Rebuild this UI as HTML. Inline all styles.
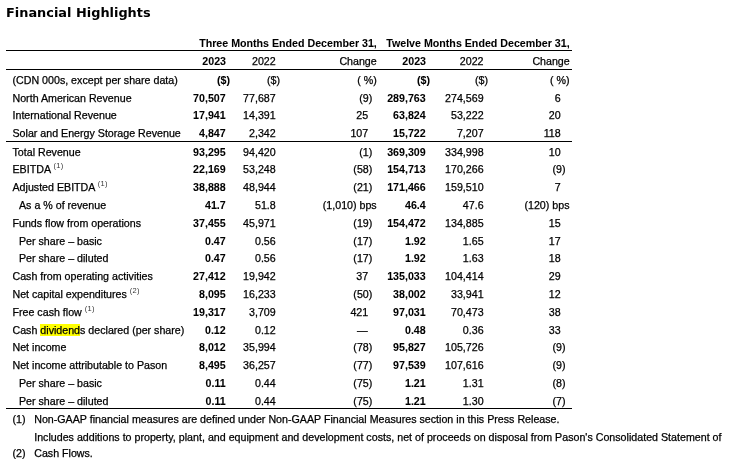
<!DOCTYPE html>
<html><head><meta charset="utf-8"><style>
html,body{margin:0;padding:0;background:#fff;}
body{will-change:transform;width:736px;height:459px;position:relative;overflow:hidden;font-family:"Liberation Sans", Arial, sans-serif;font-size:10.67px;color:#000;}
.t{position:absolute;white-space:nowrap;line-height:11px;-webkit-text-stroke:0.25px #000;}
.title{position:absolute;left:6px;top:5px;font-family:"DejaVu Sans",Verdana,sans-serif;font-weight:bold;font-size:12.9px;line-height:15px;white-space:nowrap;}
.ln{position:absolute;height:1px;background:#000;}
.b{font-weight:bold;-webkit-text-stroke:0.05px #000;}
.hl{background:#ffff00;}
sup{font-size:7.5px;vertical-align:0;position:relative;top:-5px;letter-spacing:0.3px;color:#333;-webkit-text-stroke:0;}
</style></head><body>
<div class="title">Financial Highlights</div>

<div class="t b" style="top:38px;right:359.2px;">Three Months Ended December 31,</div>
<div class="t b" style="top:38px;right:166.4px;">Twelve Months Ended December 31,</div>
<div class="ln" style="left:6px;top:50px;width:566px;"></div>
<div class="ln" style="left:6px;top:69px;width:566px;"></div>
<div class="t b" style="top:56px;right:510px;">2023</div>
<div class="t" style="top:56px;right:460.3px;">2022</div>
<div class="t" style="top:56px;right:359.3px;">Change</div>
<div class="t b" style="top:56px;right:310px;">2023</div>
<div class="t" style="top:56px;right:252.5px;">2022</div>
<div class="t" style="top:56px;right:166.3px;">Change</div>
<div class="t" style="top:75px;left:12.5px;">(CDN 000s, except per share data)</div>
<div class="t b" style="top:75px;right:506px;">($)</div>
<div class="t" style="top:75px;right:456px;">($)</div>
<div class="t" style="top:75px;right:359.3px;">( %)</div>
<div class="t b" style="top:75px;right:306px;">($)</div>
<div class="t" style="top:75px;right:248px;">($)</div>
<div class="t" style="top:75px;right:166.5px;">( %)</div>
<div class="t" style="top:93px;left:12.5px;">North American Revenue</div>
<div class="t b" style="top:93px;right:510.3px;">70,507</div>
<div class="t" style="top:93px;right:460.3px;">77,687</div>
<div class="t" style="top:93px;right:363.7px;">(9)</div>
<div class="t b" style="top:93px;right:310.3px;">289,763</div>
<div class="t" style="top:93px;right:252.4px;">274,569</div>
<div class="t" style="top:93px;right:175.3px;">6</div>
<div class="t" style="top:110px;left:12.5px;">International Revenue</div>
<div class="t b" style="top:110px;right:510.3px;">17,941</div>
<div class="t" style="top:110px;right:460.3px;">14,391</div>
<div class="t" style="top:110px;right:367.8px;">25</div>
<div class="t b" style="top:110px;right:310.3px;">63,824</div>
<div class="t" style="top:110px;right:252.4px;">53,222</div>
<div class="t" style="top:110px;right:175.3px;">20</div>
<div class="t" style="top:128px;left:12.5px;">Solar and Energy Storage Revenue</div>
<div class="t b" style="top:128px;right:510.3px;">4,847</div>
<div class="t" style="top:128px;right:460.3px;">2,342</div>
<div class="t" style="top:128px;right:367.8px;">107</div>
<div class="t b" style="top:128px;right:310.3px;">15,722</div>
<div class="t" style="top:128px;right:252.4px;">7,207</div>
<div class="t" style="top:128px;right:175.3px;">118</div>
<div class="t" style="top:147px;left:12.5px;">Total Revenue</div>
<div class="t b" style="top:147px;right:510.3px;">93,295</div>
<div class="t" style="top:147px;right:460.3px;">94,420</div>
<div class="t" style="top:147px;right:363.7px;">(1)</div>
<div class="t b" style="top:147px;right:310.3px;">369,309</div>
<div class="t" style="top:147px;right:252.4px;">334,998</div>
<div class="t" style="top:147px;right:175.3px;">10</div>
<div class="t" style="top:164px;left:12.5px;">EBITDA <sup>(1)</sup></div>
<div class="t b" style="top:164px;right:510.3px;">22,169</div>
<div class="t" style="top:164px;right:460.3px;">53,248</div>
<div class="t" style="top:164px;right:363.7px;">(58)</div>
<div class="t b" style="top:164px;right:310.3px;">154,713</div>
<div class="t" style="top:164px;right:252.4px;">170,266</div>
<div class="t" style="top:164px;right:170.5px;">(9)</div>
<div class="t" style="top:182px;left:12.5px;">Adjusted EBITDA <sup>(1)</sup></div>
<div class="t b" style="top:182px;right:510.3px;">38,888</div>
<div class="t" style="top:182px;right:460.3px;">48,944</div>
<div class="t" style="top:182px;right:363.7px;">(21)</div>
<div class="t b" style="top:182px;right:310.3px;">171,466</div>
<div class="t" style="top:182px;right:252.4px;">159,510</div>
<div class="t" style="top:182px;right:175.3px;">7</div>
<div class="t" style="top:200px;left:19px;">As a % of revenue</div>
<div class="t b" style="top:200px;right:510.3px;">41.7</div>
<div class="t" style="top:200px;right:460.3px;">51.8</div>
<div class="t" style="top:200px;right:359.3px;">(1,010) bps</div>
<div class="t b" style="top:200px;right:310.3px;">46.4</div>
<div class="t" style="top:200px;right:252.4px;">47.6</div>
<div class="t" style="top:200px;right:166.5px;">(120) bps</div>
<div class="t" style="top:218px;left:12.5px;">Funds flow from operations</div>
<div class="t b" style="top:218px;right:510.3px;">37,455</div>
<div class="t" style="top:218px;right:460.3px;">45,971</div>
<div class="t" style="top:218px;right:363.7px;">(19)</div>
<div class="t b" style="top:218px;right:310.3px;">154,472</div>
<div class="t" style="top:218px;right:252.4px;">134,885</div>
<div class="t" style="top:218px;right:175.3px;">15</div>
<div class="t" style="top:236px;left:19px;">Per share – basic</div>
<div class="t b" style="top:236px;right:510.3px;">0.47</div>
<div class="t" style="top:236px;right:460.3px;">0.56</div>
<div class="t" style="top:236px;right:363.7px;">(17)</div>
<div class="t b" style="top:236px;right:310.3px;">1.92</div>
<div class="t" style="top:236px;right:252.4px;">1.65</div>
<div class="t" style="top:236px;right:175.3px;">17</div>
<div class="t" style="top:253px;left:19px;">Per share – diluted</div>
<div class="t b" style="top:253px;right:510.3px;">0.47</div>
<div class="t" style="top:253px;right:460.3px;">0.56</div>
<div class="t" style="top:253px;right:363.7px;">(17)</div>
<div class="t b" style="top:253px;right:310.3px;">1.92</div>
<div class="t" style="top:253px;right:252.4px;">1.63</div>
<div class="t" style="top:253px;right:175.3px;">18</div>
<div class="t" style="top:271px;left:12.5px;">Cash from operating activities</div>
<div class="t b" style="top:271px;right:510.3px;">27,412</div>
<div class="t" style="top:271px;right:460.3px;">19,942</div>
<div class="t" style="top:271px;right:367.8px;">37</div>
<div class="t b" style="top:271px;right:310.3px;">135,033</div>
<div class="t" style="top:271px;right:252.4px;">104,414</div>
<div class="t" style="top:271px;right:175.3px;">29</div>
<div class="t" style="top:289px;left:12.5px;">Net capital expenditures <sup>(2)</sup></div>
<div class="t b" style="top:289px;right:510.3px;">8,095</div>
<div class="t" style="top:289px;right:460.3px;">16,233</div>
<div class="t" style="top:289px;right:363.7px;">(50)</div>
<div class="t b" style="top:289px;right:310.3px;">38,002</div>
<div class="t" style="top:289px;right:252.4px;">33,941</div>
<div class="t" style="top:289px;right:175.3px;">12</div>
<div class="t" style="top:307px;left:12.5px;">Free cash flow <sup>(1)</sup></div>
<div class="t b" style="top:307px;right:510.3px;">19,317</div>
<div class="t" style="top:307px;right:460.3px;">3,709</div>
<div class="t" style="top:307px;right:367.8px;">421</div>
<div class="t b" style="top:307px;right:310.3px;">97,031</div>
<div class="t" style="top:307px;right:252.4px;">70,473</div>
<div class="t" style="top:307px;right:175.3px;">38</div>
<div class="t" style="top:325px;left:12.5px;">Cash <span class="hl">dividend</span>s declared (per share)</div>
<div class="t b" style="top:325px;right:510.3px;">0.12</div>
<div class="t" style="top:325px;right:460.3px;">0.12</div>
<div class="t" style="top:325px;right:368.3px;">—</div>
<div class="t b" style="top:325px;right:310.3px;">0.48</div>
<div class="t" style="top:325px;right:252.4px;">0.36</div>
<div class="t" style="top:325px;right:175.3px;">33</div>
<div class="t" style="top:342px;left:12.5px;">Net income</div>
<div class="t b" style="top:342px;right:510.3px;">8,012</div>
<div class="t" style="top:342px;right:460.3px;">35,994</div>
<div class="t" style="top:342px;right:363.7px;">(78)</div>
<div class="t b" style="top:342px;right:310.3px;">95,827</div>
<div class="t" style="top:342px;right:252.4px;">105,726</div>
<div class="t" style="top:342px;right:170.5px;">(9)</div>
<div class="t" style="top:360px;left:12.5px;">Net income attributable to Pason</div>
<div class="t b" style="top:360px;right:510.3px;">8,495</div>
<div class="t" style="top:360px;right:460.3px;">36,257</div>
<div class="t" style="top:360px;right:363.7px;">(77)</div>
<div class="t b" style="top:360px;right:310.3px;">97,539</div>
<div class="t" style="top:360px;right:252.4px;">107,616</div>
<div class="t" style="top:360px;right:170.5px;">(9)</div>
<div class="t" style="top:378px;left:19px;">Per share – basic</div>
<div class="t b" style="top:378px;right:510.3px;">0.11</div>
<div class="t" style="top:378px;right:460.3px;">0.44</div>
<div class="t" style="top:378px;right:363.7px;">(75)</div>
<div class="t b" style="top:378px;right:310.3px;">1.21</div>
<div class="t" style="top:378px;right:252.4px;">1.31</div>
<div class="t" style="top:378px;right:170.5px;">(8)</div>
<div class="t" style="top:396px;left:19px;">Per share – diluted</div>
<div class="t b" style="top:396px;right:510.3px;">0.11</div>
<div class="t" style="top:396px;right:460.3px;">0.44</div>
<div class="t" style="top:396px;right:363.7px;">(75)</div>
<div class="t b" style="top:396px;right:310.3px;">1.21</div>
<div class="t" style="top:396px;right:252.4px;">1.30</div>
<div class="t" style="top:396px;right:170.5px;">(7)</div>
<div class="ln" style="left:6px;top:141px;width:566px;"></div>
<div class="ln" style="left:6px;top:408px;width:566px;"></div>
<div class="t" style="top:414px;left:12.5px;">(1)</div>
<div class="t" style="top:414px;left:34.2px;letter-spacing:0.009px;">Non-GAAP financial measures are defined under Non-GAAP Financial Measures section in this Press Release.</div>
<div class="t" style="top:432px;left:34.2px;letter-spacing:0.009px;">Includes additions to property, plant, and equipment and development costs, net of proceeds on disposal from Pason's Consolidated Statement of</div>
<div class="t" style="top:448px;left:12.5px;">(2)</div>
<div class="t" style="top:448px;left:34.2px;">Cash Flows.</div>
</body></html>
